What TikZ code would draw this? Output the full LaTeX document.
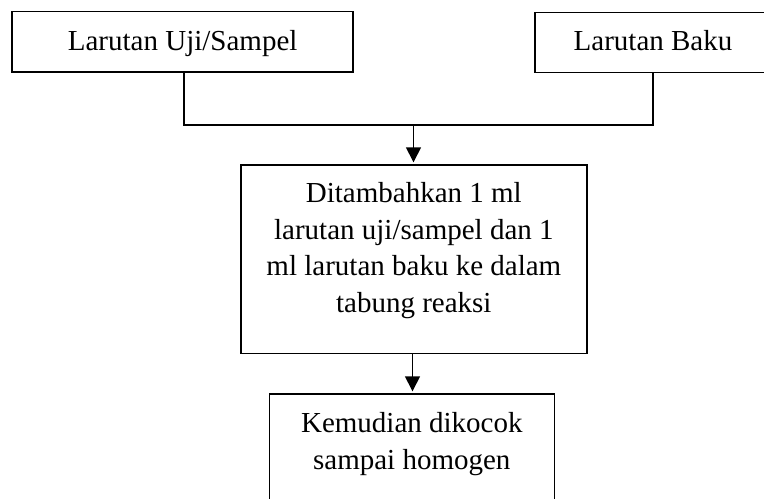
\documentclass[tikz,border=0pt]{standalone}
\usepackage{fontspec}
\setmainfont{Liberation Serif}
\usetikzlibrary{arrows.meta}
\newcommand{\mlines}[1]{\begin{tabular}[t]{@{}c@{}}#1\end{tabular}}
\begin{document}
\begin{tikzpicture}[x=1bp,y=-1bp,
  box/.style={draw,line width=1.6bp,inner sep=0pt,anchor=north,
    font=\fontsize{29bp}{36.7bp}\selectfont},
  conn/.style={line width=1.6bp},
  arr/.style={line width=1.5bp,-{Triangle[length=15bp,width=15bp]},shorten >=2bp}]
\clip (0,0) rectangle (764,499);
\fill[white] (0,0) rectangle (764,499);
\node[box,minimum width=340.7bp,text height=39.3bp,text depth=21bp] (b1) at (182.65,10.7) {Larutan Uji/Sampel};
\node[box,minimum width=236bp,text height=38.3bp,text depth=21.7bp] (b2) at (653,11.7) {Larutan Baku};
\node[box,minimum width=345.7bp,text height=37.4bp,text depth=151bp] (b3) at (413.85,164.3)
  {\mlines{Ditambahkan 1 ml\\larutan uji/sampel dan 1\\ml larutan baku ke dalam\\tabung reaksi}};
\node[box,minimum width=285bp,text height=38.4bp,text depth=90bp] (b4) at (411.8,393.3)
  {\mlines{Kemudian dikocok\\sampai homogen}};
\coordinate (j) at (413.5,125);
\draw[conn] ([xshift=1.35bp]b1.south) |- (j) -| (b2.south);
\draw[arr] (j) -- (j |- b3.north);
\draw[arr] ([xshift=0.7bp]b4.north |- b3.south) -- ([xshift=0.7bp]b4.north);
\end{tikzpicture}
\end{document}
